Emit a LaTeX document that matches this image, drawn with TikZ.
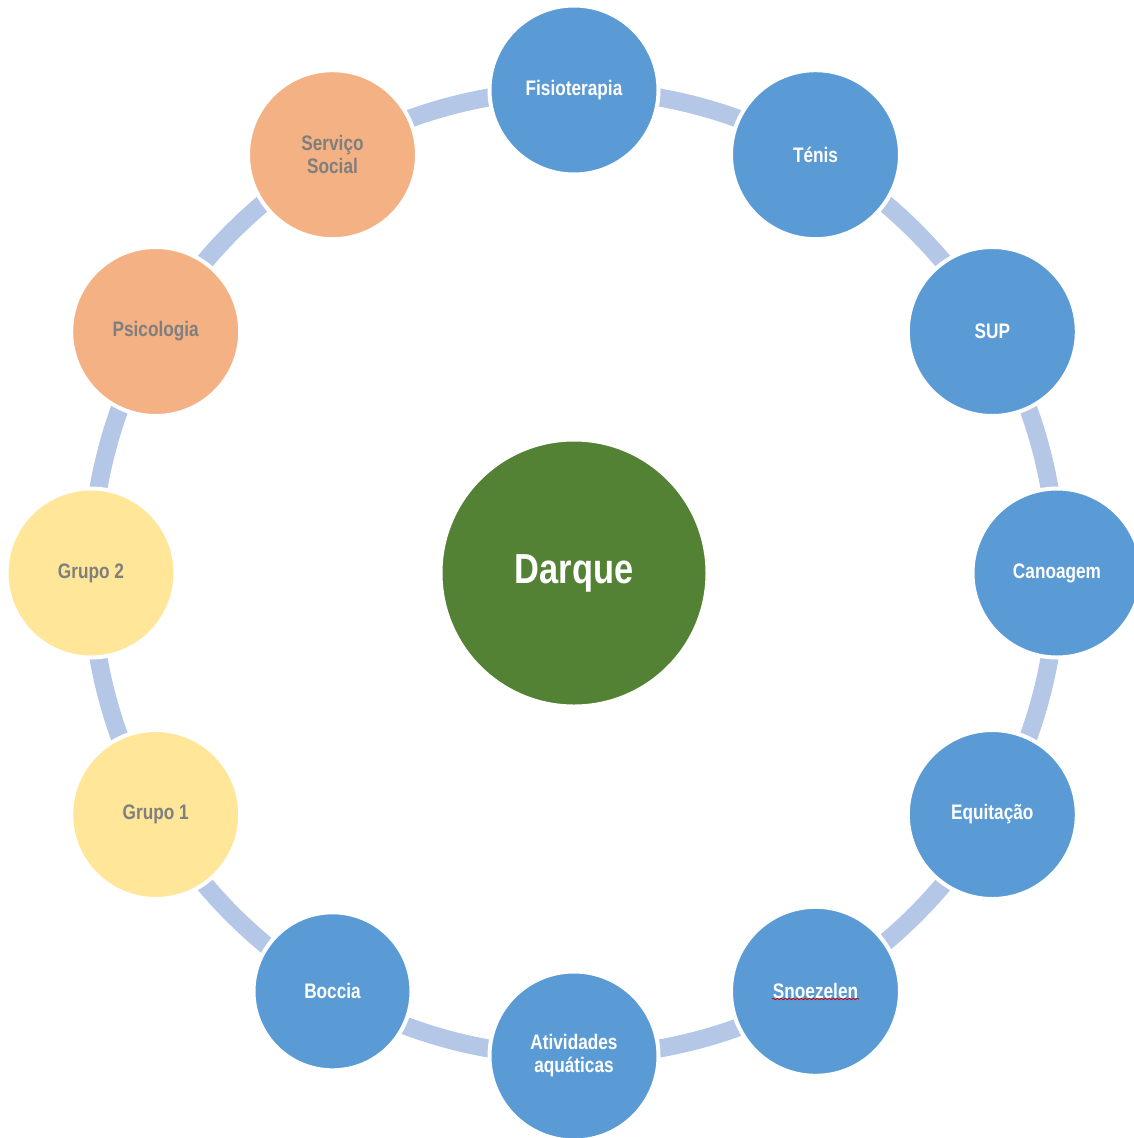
\documentclass[tikz,border=0pt]{standalone}
\usepackage{fontspec}
\setmainfont{Liberation Sans}[FakeStretch=0.82]
\usetikzlibrary{decorations.pathmorphing}
\definecolor{bluebub}{HTML}{5B9BD5}
\definecolor{greenhub}{HTML}{548235}
\definecolor{orangebub}{HTML}{F4B183}
\definecolor{yellowbub}{HTML}{FFE699}
\definecolor{ringcol}{HTML}{B4C7E7}
\definecolor{greytext}{HTML}{7F7F7F}
\begin{document}
\begin{tikzpicture}[x=1pt,y=-1pt,
  ring/.style={draw=ringcol, line width=18pt},
  bubble/.style={circle, draw=white, line width=4pt, minimum size=169pt, inner sep=0pt,
    align=center, font=\fontsize{21}{23}\selectfont\bfseries},
  blueb/.style={bubble, fill=bluebub, text=white},
  orangeb/.style={bubble, fill=orangebub, text=greytext},
  yellowb/.style={bubble, fill=yellowbub, text=greytext},
  hub/.style={circle, fill=greenhub, draw=white, line width=4pt, minimum size=267pt,
    inner sep=0pt, text=white, font=\fontsize{42}{46}\selectfont\bfseries}]
\useasboundingbox (0,0) rectangle (1134,1138);
\clip (0,0) rectangle (1134,1138);
\coordinate (c) at (574,573);
% ring that links the outer circles
\draw[ring] (c) circle[radius=483];
% central hub
\node[hub] (darque) at (c) {Darque};
% outer circles, clockwise from the top
\node[blueb] (fis) at (574,90) {Fisioterapia};
\node[blueb] (ten) at (815.5,154.7) {Ténis};
\node[blueb] (sup) at (992.3,331.5) {SUP};
\node[blueb] (can) at (1057,573) {Canoagem};
\node[blueb] (equ) at (992.3,814.5) {Equitação};
\node[blueb] (snz) at (815.5,991.3) {Snoezelen};
\node[blueb] (atv) at (574,1056) {Atividades\\aquáticas};
\node[blueb, minimum size=158pt] (boc) at (332.5,991.3) {Boccia};
\node[yellowb] (gr1) at (155.7,814.5) {Grupo 1};
\node[yellowb] (gr2) at (91,573) {Grupo 2};
\node[orangeb] (psi) at (155.7,331.5) {Psicologia};
\node[orangeb] (ser) at (332.5,154.7) {Serviço\\Social};
% spell-check squiggle under Snoezelen
\draw[red!80!black, line width=0.8pt, decorate,
  decoration={snake, amplitude=0.7pt, segment length=4pt}] (772,999) -- (859,999);
\end{tikzpicture}
\end{document}
